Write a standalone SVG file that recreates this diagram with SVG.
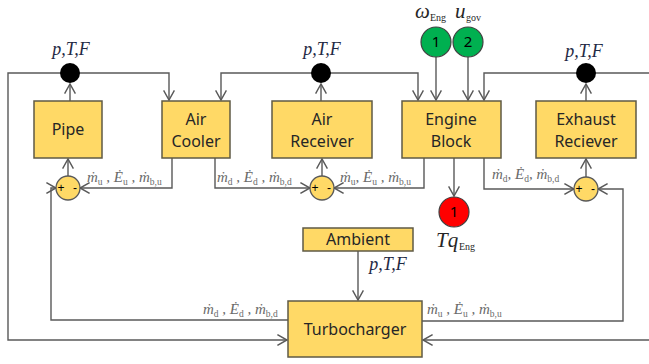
<svg xmlns="http://www.w3.org/2000/svg" width="649" height="364" viewBox="0 0 649 364">
<style>
.box{fill:#FFD966;stroke:#5f5a45;stroke-width:1.5}
.lbl{font-family:"Noto Sans","Open Sans",sans-serif;font-size:16px;fill:#262626;text-anchor:middle}
.ln{fill:none;stroke:#595959;stroke-width:1.4}
.ptf{font-family:"Liberation Serif","DejaVu Serif",serif;font-style:italic;font-size:18px;fill:#1f2a44;text-anchor:middle}
.m{font-family:"Liberation Serif","DejaVu Serif",serif;font-style:italic;font-size:15px;fill:#6a6a6a}
.s{font-family:"Liberation Serif","DejaVu Serif",serif;font-style:normal;font-size:9.5px}
.sum{fill:#FFD966;stroke:#595959;stroke-width:1.3}
.pm{font-family:"Liberation Sans",sans-serif;font-size:12px;fill:#000;text-anchor:middle}
.num{font-family:"Noto Sans","Open Sans",sans-serif;font-size:15px;fill:#000;text-anchor:middle}
.big{font-family:"Liberation Serif","DejaVu Serif",serif;font-style:italic;font-size:21px;fill:#262626}
.sub{font-family:"Liberation Serif","DejaVu Serif",serif;font-size:10px;fill:#262626}
</style>
<defs>
<marker id="ar" markerUnits="userSpaceOnUse" markerWidth="12" markerHeight="12" refX="8" refY="4.5" orient="auto" viewBox="0 0 10 9">
<path d="M0,0 L8,4.5 L0,9" fill="none" stroke="#595959" stroke-width="1.2"/>
</marker>
</defs>
<rect width="649" height="364" fill="#fff"/>
<g id="connectors">
<path class="ln" d="M70,101 V84" marker-end="url(#ar)"/>
<path class="ln" d="M70,73 H8 V340 H287" marker-end="url(#ar)"/>
<path class="ln" d="M70,73 H169 V100" marker-end="url(#ar)"/>
<path class="ln" d="M321,73 H221 V100" marker-end="url(#ar)"/>
<path class="ln" d="M321,73 H418 V100" marker-end="url(#ar)"/>
<path class="ln" d="M321,101 V84" marker-end="url(#ar)"/>
<path class="ln" d="M586,73 H484 V100" marker-end="url(#ar)"/>
<path class="ln" d="M586,73 H660 V340 H423" marker-end="url(#ar)"/>
<path class="ln" d="M586,101 V84" marker-end="url(#ar)"/>
<path class="ln" d="M436,57 V100" marker-end="url(#ar)"/>
<path class="ln" d="M468,57 V100" marker-end="url(#ar)"/>
<path class="ln" d="M454,158 V196" marker-end="url(#ar)"/>
<path class="ln" d="M68,176 V159" marker-end="url(#ar)"/>
<path class="ln" d="M288,320 H51 V188 H56" marker-end="url(#ar)"/>
<path class="ln" d="M172,158 V188 H80" marker-end="url(#ar)"/>
<path class="ln" d="M322,176 V159" marker-end="url(#ar)"/>
<path class="ln" d="M215,158 V188 H310" marker-end="url(#ar)"/>
<path class="ln" d="M424,158 V188 H334" marker-end="url(#ar)"/>
<path class="ln" d="M586,177 V159" marker-end="url(#ar)"/>
<path class="ln" d="M484,158 V189 H574" marker-end="url(#ar)"/>
<path class="ln" d="M422,321 H623 V189 H598" marker-end="url(#ar)"/>
<path class="ln" d="M358,251 V300" marker-end="url(#ar)"/>
</g>
<g id="pipe"><rect class="box" x="34" y="101" width="68" height="57"/><text class="lbl" x="68" y="135">Pipe</text></g>
<g id="air-cooler"><rect class="box" x="162" y="101" width="68" height="57"/><text class="lbl" x="196" y="125">Air</text><text class="lbl" x="196" y="147">Cooler</text></g>
<g id="air-receiver"><rect class="box" x="272" y="101" width="100" height="57"/><text class="lbl" x="322" y="125">Air</text><text class="lbl" x="322" y="147">Receiver</text></g>
<g id="engine-block"><rect class="box" x="402" y="101" width="99" height="57"/><text class="lbl" x="451" y="125">Engine</text><text class="lbl" x="451" y="147">Block</text></g>
<g id="exhaust-reciever"><rect class="box" x="536" y="101" width="100" height="57"/><text class="lbl" x="586" y="125">Exhaust</text><text class="lbl" x="586" y="147">Reciever</text></g>
<g id="ambient"><rect class="box" x="303" y="228" width="110" height="23"/><text class="lbl" x="358" y="245">Ambient</text></g>
<g id="turbocharger"><rect class="box" x="288" y="301" width="134" height="56"/><text class="lbl" x="355" y="335">Turbocharger</text></g>
<g id="node-pipe"><circle cx="70" cy="73" r="10" fill="#000"/><text class="ptf" x="71" y="55">p,T,F</text></g>
<g id="node-receiver"><circle cx="321" cy="73" r="10" fill="#000"/><text class="ptf" x="322" y="55">p,T,F</text></g>
<g id="node-exhaust"><circle cx="586" cy="73" r="10" fill="#000"/><text class="ptf" x="584" y="57">p,T,F</text></g>
<text class="ptf" x="388" y="270">p,T,F</text>
<g id="sum-pipe"><circle class="sum" cx="68" cy="188" r="12"/><text class="pm" x="61" y="192">+</text><text class="pm" x="75" y="192">-</text></g>
<g id="sum-receiver"><circle class="sum" cx="322" cy="188" r="12"/><text class="pm" x="315" y="192">+</text><text class="pm" x="329" y="192">-</text></g>
<g id="sum-exhaust"><circle class="sum" cx="586" cy="189" r="12"/><text class="pm" x="579" y="193">+</text><text class="pm" x="593" y="193">-</text></g>
<g id="in-omega"><circle cx="436" cy="42" r="15" fill="#00B050" stroke="#404040" stroke-width="1.2"/><text class="num" x="436" y="47">1</text>
<text class="big" x="415" y="18">ω</text><text class="sub" x="430" y="21">Eng</text></g>
<g id="in-ugov"><circle cx="468" cy="42" r="15" fill="#00B050" stroke="#404040" stroke-width="1.2"/><text class="num" x="468" y="47">2</text>
<text class="big" x="455" y="18">u</text><text class="sub" x="466" y="21">gov</text></g>
<g id="out-tq"><circle cx="454" cy="212" r="15" fill="#FF0000" stroke="#404040" stroke-width="1.2"/><text class="num" x="454" y="217">1</text>
<text class="big" x="436" y="247">Tq</text><text class="sub" x="459" y="250">Eng</text></g>
<g id="flow-labels">
<text class="m" x="87" y="182">ṁ<tspan class="s" dy="3">u</tspan><tspan dy="-3"> , Ė</tspan><tspan class="s" dy="3">u</tspan><tspan dy="-3"> , ṁ</tspan><tspan class="s" dy="3">b,u</tspan></text>
<text class="m" x="217" y="182">ṁ<tspan class="s" dy="3">d</tspan><tspan dy="-3"> , Ė</tspan><tspan class="s" dy="3">d</tspan><tspan dy="-3"> , ṁ</tspan><tspan class="s" dy="3">b,d</tspan></text>
<text class="m" x="340" y="182">ṁ<tspan class="s" dy="3">u</tspan><tspan dy="-3">, Ė</tspan><tspan class="s" dy="3">u</tspan><tspan dy="-3"> , ṁ</tspan><tspan class="s" dy="3">b,u</tspan></text>
<text class="m" x="492" y="179">ṁ<tspan class="s" dy="3">d</tspan><tspan dy="-3">, Ė</tspan><tspan class="s" dy="3">d</tspan><tspan dy="-3">, ṁ</tspan><tspan class="s" dy="3">b,d</tspan></text>
<text class="m" x="203" y="314">ṁ<tspan class="s" dy="3">d</tspan><tspan dy="-3"> , Ė</tspan><tspan class="s" dy="3">d</tspan><tspan dy="-3"> , ṁ</tspan><tspan class="s" dy="3">b,d</tspan></text>
<text class="m" x="427" y="314">ṁ<tspan class="s" dy="3">u</tspan><tspan dy="-3"> , Ė</tspan><tspan class="s" dy="3">u</tspan><tspan dy="-3"> , ṁ</tspan><tspan class="s" dy="3">b,u</tspan></text>
</g>
</svg>
